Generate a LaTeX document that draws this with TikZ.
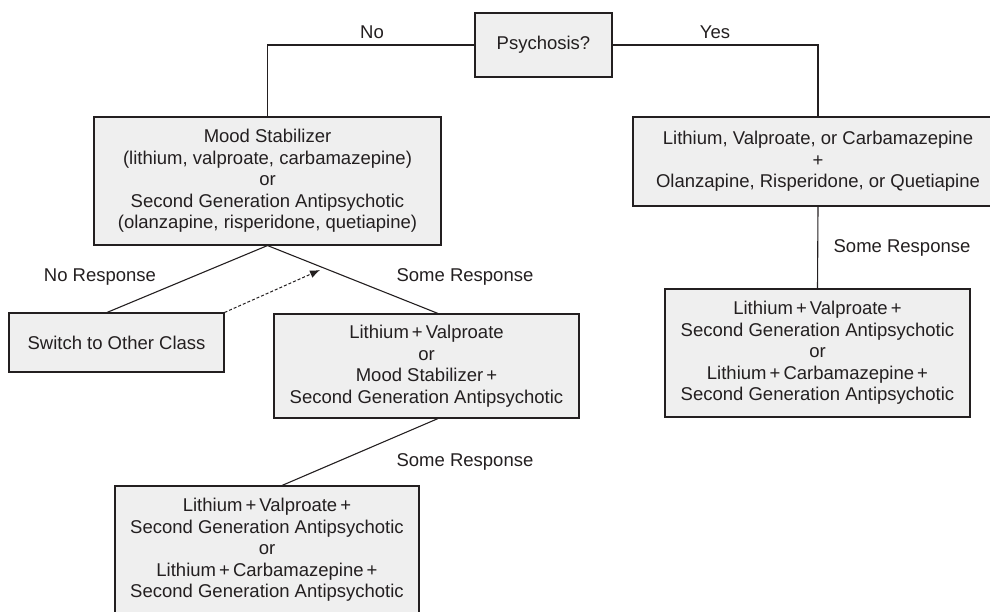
\documentclass[tikz,border=0pt]{standalone}
\usepackage{fontspec}
\setmainfont{Liberation Sans}
\usetikzlibrary{arrows.meta}
\definecolor{boxfill}{HTML}{EFEFEF}
\definecolor{ink}{HTML}{231F20}
\tikzset{
	drugbox/.style={draw=ink, fill=boxfill, line width=1.1pt, align=center, inner sep=0pt, text=ink},
	conn/.style={draw=ink, line width=1.1pt},
	lbl/.style={text=ink, inner sep=0pt},
}
\begin{document}
\begin{tikzpicture}[x=1pt,y=-1pt,font=\fontsize{18.5}{21.5}\selectfont]
	\useasboundingbox (0,0) rectangle (990,611);
	\clip (0,0) rectangle (990,611);
	% boxes
	\node[drugbox, minimum width=137pt, minimum height=64pt] (psy) at (543.5,45) {Psychosis?};
	\node[drugbox, minimum width=347pt, minimum height=128pt] (mood) at (267.5,181)
		{Mood Stabilizer\\(lithium, valproate, carbamazepine)\\or\\Second Generation Antipsychotic\\(olanzapine, risperidone, quetiapine)};
	\node[drugbox, minimum width=370pt, minimum height=89pt] (combo) at (818,161.5)
		{Lithium, Valproate, or Carbamazepine\\+\\Olanzapine, Risperidone, or Quetiapine};
	\node[drugbox, minimum width=305pt, minimum height=128pt] (combotwo) at (817.5,353)
		{Lithium\,+\,Valproate\,+\\Second Generation Antipsychotic\\or\\Lithium\,+\,Carbamazepine\,+\\Second Generation Antipsychotic};
	\node[drugbox, minimum width=215pt, minimum height=59pt] (switch) at (116.5,342.5) {Switch to Other Class};
	\node[drugbox, minimum width=305pt, minimum height=104pt] (lival) at (426.5,366)
		{Lithium\,+\,Valproate\\or\\Mood Stabilizer\,+\\Second Generation Antipsychotic};
	\node[drugbox, minimum width=304pt, minimum height=128pt] (triple) at (267,550)
		{Lithium\,+\,Valproate\,+\\Second Generation Antipsychotic\\or\\Lithium\,+\,Carbamazepine\,+\\Second Generation Antipsychotic};
	%
	% connectors
	\draw[conn] (psy.west) -| (mood.north);
	\draw[conn] (psy.east) -| (combo.north);
	\draw[conn] (combo.south) -- (combotwo.north);
	\draw[conn] (mood.south) -- ([xshift=-9.5pt]switch.north);
	\draw[conn] (mood.south) -- ([xshift=11.5pt]lival.north);
	\draw[conn] ([xshift=11.5pt]lival.south) -- ([xshift=15pt]triple.north);
	\coordinate (backtip) at (320,270);
	\draw[conn, line width=1pt, dash pattern=on 3pt off 2pt, -{Latex[length=10pt,width=8pt]}] (switch.north east) -- (backtip);
	%
	% labels
	\node[lbl] (lblno) at (372,32) {No};
	\node[lbl] (lblyes) at (715,32) {Yes};
	\node[lbl] (lblnoresp) at (100,277) {No Response};
	\node[lbl] (lblsome) at (465,277) {Some Response};
	\node[lbl] (lblsomeright) at (902,248) {Some Response};
	\node[lbl] (lblsomelow) at (465,462) {Some Response};
\end{tikzpicture}
\end{document}
